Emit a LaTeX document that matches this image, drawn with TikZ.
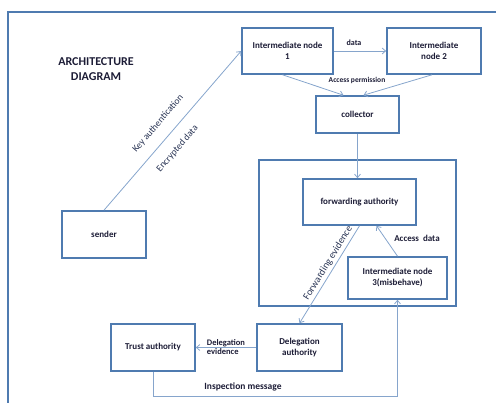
\documentclass[tikz,border=0pt]{standalone}
\usepackage{fontspec}
\setmainfont{Carlito}
\usetikzlibrary{arrows.meta,calc}
\definecolor{boxline}{HTML}{4F7BB0}
\definecolor{arrowline}{HTML}{86A5CC}
\definecolor{txt}{HTML}{1C1C36}
\begin{document}
\begin{tikzpicture}[x=1pt, y=-1pt]
    % Define styles
    \tikzset{
        block/.style={draw=boxline, line width=1.6pt, fill=white, align=center, text=txt, inner sep=0pt, font=\bfseries\fontsize{9}{11}\selectfont},
        flow/.style={-{Straight Barb[length=3.5pt, width=6pt]}, draw=arrowline, line width=0.8pt},
        tag/.style={text=txt, font=\bfseries\fontsize{7.5}{8.5}\selectfont, inner sep=1pt},
        slopetag/.style={text=txt!75!boxline, font=\fontsize{9.5}{11}\selectfont, inner sep=1pt, sloped}
    }
    \useasboundingbox (0,0) rectangle (496,403);
    
    % Outer frame (cut by the page)
    \draw[boxline, line width=1.5pt] (8,420) -- (8,12) -- (510,12);
    
    % Title
    \node[text=txt, align=center, font=\bfseries\fontsize{12}{15}\selectfont] (title) at (96,69) {ARCHITECTURE\\DIAGRAM};
    
    % Inner box
    \draw[boxline, line width=1.6pt] (259,160) rectangle (456,306);
    
    % Blocks
    \node[block, minimum width=91pt, minimum height=46pt] (inter1) at (287.5,51) {Intermediate node\\1};
    \node[block, minimum width=94pt, minimum height=46pt] (inter2) at (434,51) {Intermediate\\node 2};
    \node[block, minimum width=83pt, minimum height=37pt] (coll) at (357.5,114.5) {collector};
    \node[block, minimum width=113pt, minimum height=46pt] (fwd) at (359.5,202) {forwarding authority};
    \node[block, minimum width=99pt, minimum height=42pt] (inter3) at (397.5,278) {Intermediate node\\3(misbehave)};
    \node[block, minimum width=85pt, minimum height=47pt] (dele) at (299.5,347.5) {Delegation\\authority};
    \node[block, minimum width=84pt, minimum height=47pt] (trust) at (153,347.5) {Trust authority};
    \node[block, minimum width=84pt, minimum height=47pt] (sender) at (104,234.5) {sender};
    
    % Arrows
    \draw[flow] (sender.north) -- (inter1.west)
        node[slopetag, above=10pt, pos=0.48] (keyauth) {Key authentication}
        node[slopetag, below=10pt, pos=0.45] (encdata) {Encrypted data};
    \draw[flow] (inter1.east) -- (inter2.west);
    \draw[flow] ([xshift=-5pt]inter1.south) -- ([xshift=-14pt]coll.north);
    \draw[flow] ([xshift=-2pt]inter2.south) -- ([xshift=6pt]coll.north);
    \draw[flow] (coll.south) -- (coll.south |- fwd.north);
    \draw[flow] (fwd.south) -- (dele.north)
        node[slopetag, font=\fontsize{10}{11}\selectfont, above=1.5pt, pos=0.42] (fwdev) {Forwarding evidence};
    \draw[flow] (inter3.north) -- ([xshift=17pt]fwd.south);
    \draw[flow] (dele.west) -- (trust.east);
    \draw[flow] (trust.south) -- ++(0,25) -| (inter3.south);
    
    % Labels
    \node[tag, font=\bfseries\fontsize{8}{9}\selectfont] (datalbl) at (354,43) {data};
    \node[tag] (permlbl) at (357,80) {Access permission};
    \node[tag, font=\bfseries\fontsize{9}{10}\selectfont] (acclbl) at (417,238) {Access~ data};
    \node[tag, align=left, font=\bfseries\fontsize{8.5}{9.5}\selectfont] (delelbl) at (226,347) {Delegation\\evidence};
    \node[tag, font=\bfseries\fontsize{9.5}{11}\selectfont] (insplbl) at (243,387) {Inspection message};
    
\end{tikzpicture}
\end{document}
